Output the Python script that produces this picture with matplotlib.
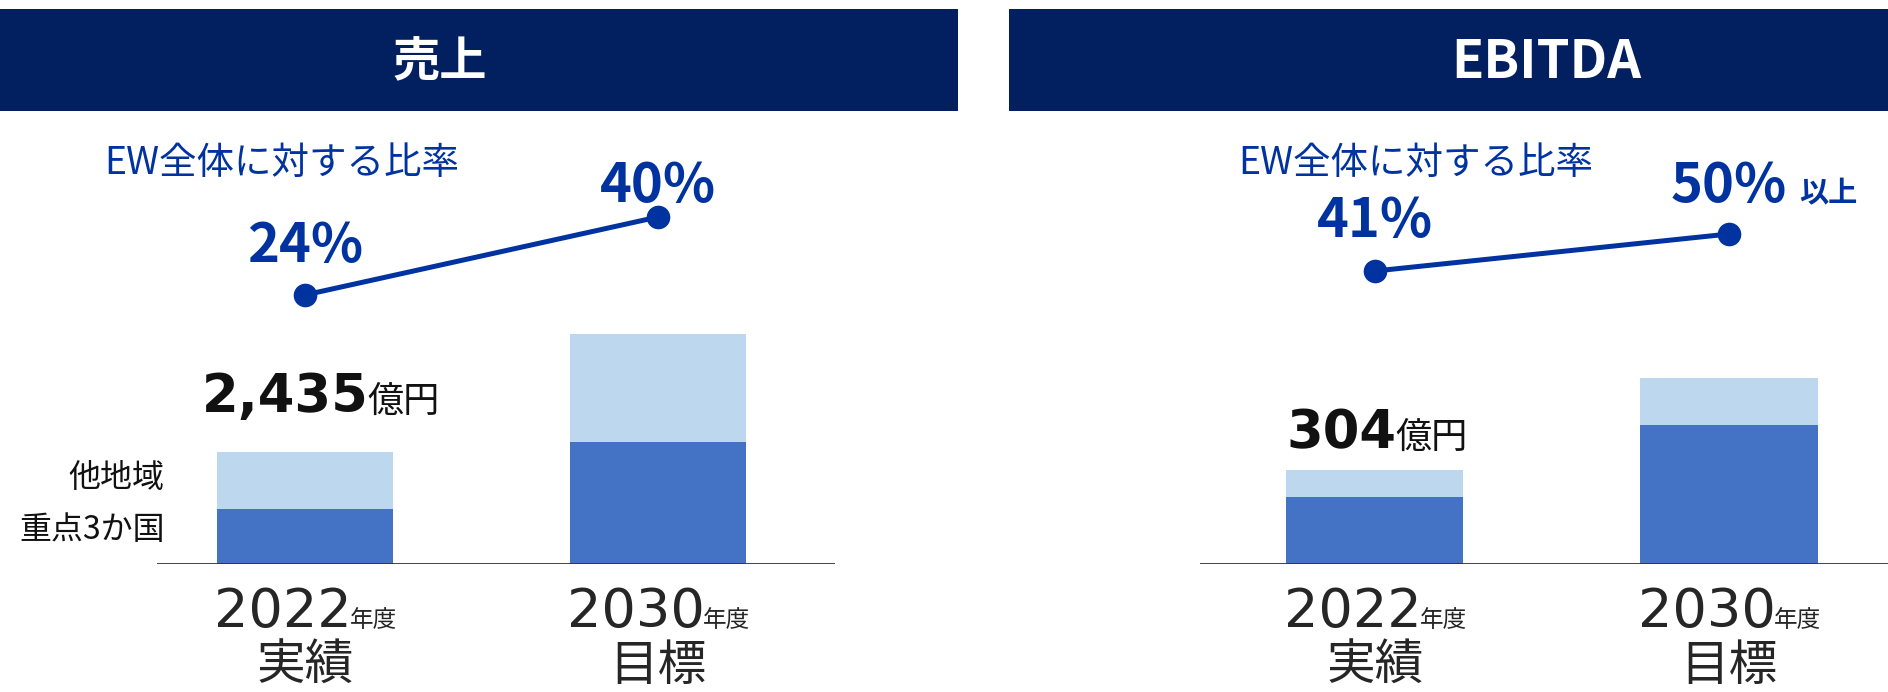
import matplotlib
matplotlib.use("Agg")
import matplotlib.pyplot as plt
import numpy as np
from matplotlib.patches import Rectangle

plt.rcParams['font.family'] = ['Noto Sans CJK JP', 'DejaVu Sans']
NUM_FONT = ['DejaVu Sans', 'Noto Sans CJK JP']

# data
years = ["2022", "2030"]
year_notes = ["実績", "目標"]
segment_labels = ["重点3か国", "他地域"]

sales_focus = [1200, 2650]
sales_other = [1235, 2350]
sales_total_text = "2,435"
sales_share = [24, 40]

ebitda_focus = [217, 450]
ebitda_other = [87, 150]
ebitda_total_text = "304"
ebitda_share = [41, 50]

NAVY = "#022060"
DARK = "#4472C4"
LIGHT = "#BDD7EE"
BLUE = "#0033A0"
GRAY = "#262626"

W, H = 1888, 692
fig = plt.figure(figsize=(W / 100, H / 100), dpi=100)


def px_rect(x0, y0, x1, y1):
    return [x0 / W, 1 - y1 / H, (x1 - x0) / W, (y1 - y0) / H]


def header(x0, x1, title, tx, size):
    fig.add_artist(Rectangle((x0 / W, 1 - 111 / H), (x1 - x0) / W, 102 / H,
                             transform=fig.transFigure, color=NAVY, lw=0))
    fig.text(tx / W, 1 - 62 / H, title, color="white", fontsize=size,
             fontweight="bold", ha="center", va="center")


def panel(rect, xlim, ymax, line_ylim, focus, other, total_text, share,
          total_off, share_off, caption_x, suffix=None, legend=False):
    x = np.arange(len(years))
    ax = fig.add_axes(px_rect(*rect))
    ax.bar(x, focus, 0.5, color=DARK, lw=0)
    ax.bar(x, other, 0.5, bottom=focus, color=LIGHT, lw=0)
    ax.set_xlim(*xlim)
    ax.set_ylim(0, ymax)
    ax.axhline(0, color="#333333", lw=2)
    ax.axis("off")

    tot = focus[0] + other[0]
    t = ax.annotate(total_text, (-0.25, tot), xytext=total_off,
                    textcoords="offset pixels", ha="left", va="baseline",
                    fontsize=38, fontweight="bold", color="#111111",
                    family=NUM_FONT)
    ax.annotate("億円", (1, tot), xycoords=(t, "data"),
                xytext=(-1, total_off[1]), textcoords="offset pixels",
                ha="left", va="baseline", fontsize=26, color="#111111")

    if legend:
        ax.annotate(segment_labels[1], (-0.25, focus[0] + other[0] / 2),
                    xytext=(-52, 2), textcoords="offset pixels", ha="right",
                    va="center", fontsize=23, color="#111111")
        ax.annotate(segment_labels[0], (-0.25, focus[0] / 2),
                    xytext=(-52, 6), textcoords="offset pixels", ha="right",
                    va="center", fontsize=23, color="#111111")

    for i in x:
        ty = ax.annotate(years[i], (i, 0), xytext=(-22, -63),
                         textcoords="offset pixels", ha="center",
                         va="baseline", fontsize=39, color=GRAY,
                         family=NUM_FONT)
        ax.annotate("年度", (1, 0), xycoords=(ty, "data"), xytext=(-2, -63),
                    textcoords="offset pixels", ha="left", va="baseline",
                    fontsize=17, color=GRAY)
        ax.annotate(year_notes[i], (i, 0), xytext=(0, -102),
                    textcoords="offset pixels", ha="center", va="center",
                    fontsize=35, color=GRAY)

    lx = fig.add_axes(px_rect(*rect))
    lx.patch.set_alpha(0)
    lx.plot(x, share, color=BLUE, lw=3.6, marker="o", ms=16)
    lx.set_xlim(*xlim)
    lx.set_ylim(*line_ylim)
    lx.axis("off")
    last = None
    for i in x:
        last = lx.annotate(f"{share[i]}%", (i, share[i]),
                           xytext=(0, share_off[i]), textcoords="offset pixels",
                           ha="center", va="baseline", fontsize=39,
                           fontweight="bold", color=BLUE)
    if suffix:
        lx.annotate(suffix, (1, share[-1]), xycoords=(last, "data"),
                    xytext=(12, share_off[-1]), textcoords="offset pixels",
                    ha="left", va="baseline", fontsize=21, fontweight="bold",
                    color=BLUE)

    fig.text(caption_x / W, 1 - 163 / H, "EW全体に対する比率", color=BLUE,
             fontsize=27, ha="left", va="center")


header(0, 958, "売上", 440, 34)
header(1009, W, "EBITDA", 1546, 38)

panel((157, 120, 835, 564), (-0.419, 1.501), 9650, (-31.2, 59.9),
      sales_focus, sales_other, sales_total_text, sales_share,
      (-15, 40), [33, 15], 104, legend=True)
panel((1200, 120, W, 564), (-0.494, 1.449), 1436, (-30.27, 77.73),
      ebitda_focus, ebitda_other, ebitda_total_text, ebitda_share,
      (0, 22), [34, 32], 1238, suffix="以上")

fig.savefig("out.png", dpi=100)
